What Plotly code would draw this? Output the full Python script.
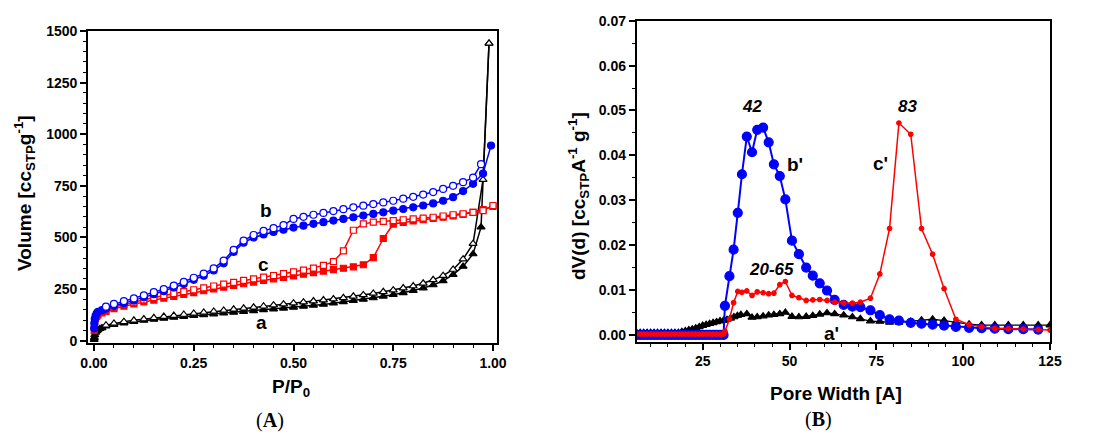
import plotly.graph_objects as go

# ---------------- Panel A: isotherms ----------------
a_ads_x = [0.0005, 0.001, 0.002, 0.004, 0.007, 0.01, 0.015, 0.02, 0.03, 0.05, 0.075, 0.1, 0.125, 0.15, 0.175,
           0.2, 0.225, 0.25, 0.275, 0.3, 0.325, 0.35, 0.375, 0.4, 0.425, 0.45, 0.475, 0.5, 0.525, 0.55, 0.575,
           0.6, 0.625, 0.65, 0.675, 0.7, 0.725, 0.75, 0.775, 0.8, 0.825, 0.85, 0.875, 0.9, 0.925, 0.95, 0.97, 0.99]
a_ads_y = [5, 15, 28, 40, 48, 53, 58, 62, 70, 78, 85, 92, 98, 103, 108,
           113, 117, 121, 125, 129, 133, 137, 141, 145, 149, 153, 157, 161, 166, 171, 176,
           182, 188, 194, 200, 207, 215, 223, 232, 243, 255, 270, 290, 320, 360, 420, 550, 1440]
a_des_x = [0.99, 0.975, 0.95, 0.925, 0.9, 0.875, 0.85, 0.825, 0.8, 0.775, 0.75, 0.725, 0.7, 0.675, 0.65,
           0.625, 0.6, 0.575, 0.55, 0.525, 0.5, 0.475, 0.45, 0.425, 0.4, 0.375, 0.35, 0.325, 0.3, 0.275,
           0.25, 0.225, 0.2, 0.175, 0.15, 0.125, 0.1, 0.075, 0.05, 0.03]
a_des_y = [1440, 780, 470, 395, 345, 315, 295, 278, 265, 255, 245, 237, 229, 222, 215,
           208, 202, 197, 192, 187, 182, 177, 172, 167, 162, 157, 152, 147, 142, 137,
           132, 127, 122, 117, 111, 105, 99, 92, 84, 75]

b_ads_x = [0.0005, 0.001, 0.002, 0.004, 0.007, 0.01, 0.02, 0.03, 0.05, 0.075, 0.1, 0.125, 0.15, 0.175, 0.2,
           0.225, 0.25, 0.275, 0.3, 0.325, 0.35, 0.375, 0.4, 0.425, 0.45, 0.475, 0.5, 0.525, 0.55, 0.575,
           0.6, 0.625, 0.65, 0.675, 0.7, 0.725, 0.75, 0.775, 0.8, 0.825, 0.85, 0.875, 0.9, 0.925, 0.95,
           0.975, 0.995]
b_ads_y = [60, 85, 105, 120, 132, 140, 148, 155, 168, 182, 195, 210, 225, 240, 258,
           275, 295, 315, 340, 375, 430, 475, 500, 515, 527, 538, 548, 557, 566, 574,
           582, 590, 598, 606, 614, 622, 630, 638, 646, 655, 665, 678, 695, 725, 760,
           810, 945]
b_des_x = [0.97, 0.95, 0.925, 0.9, 0.875, 0.85, 0.825, 0.8, 0.775, 0.75, 0.725, 0.7, 0.675, 0.65, 0.625,
           0.6, 0.575, 0.55, 0.525, 0.5, 0.475, 0.45, 0.425, 0.4, 0.375, 0.35, 0.325, 0.3, 0.275, 0.25,
           0.225, 0.2, 0.175, 0.15, 0.125, 0.1, 0.075, 0.05, 0.03]
b_des_y = [855, 790, 768, 750, 735, 720, 708, 697, 688, 678, 670, 662, 654, 646, 637,
           628, 619, 610, 600, 590, 560, 545, 532, 512, 485, 440, 388, 350, 325, 305,
           285, 267, 250, 235, 220, 205, 192, 178, 165]

c_ads_x = [0.0005, 0.001, 0.002, 0.004, 0.007, 0.01, 0.02, 0.03, 0.05, 0.075, 0.1, 0.125, 0.15, 0.175, 0.2,
           0.225, 0.25, 0.275, 0.3, 0.325, 0.35, 0.375, 0.4, 0.425, 0.45, 0.475, 0.5, 0.525, 0.55, 0.575,
           0.6, 0.625, 0.65, 0.675, 0.7, 0.725, 0.75, 0.775, 0.8, 0.825, 0.85, 0.875, 0.9, 0.925, 0.95,
           0.975, 1.0]
c_ads_y = [50, 75, 95, 108, 118, 125, 135, 142, 155, 167, 178, 188, 197, 206, 215,
           224, 233, 242, 251, 260, 268, 276, 284, 292, 300, 307, 314, 322, 330, 337,
           344, 351, 358, 368, 402, 495, 565, 573, 580, 586, 592, 598, 604, 612, 622,
           635, 650]
c_des_x = [1.0, 0.975, 0.95, 0.925, 0.9, 0.875, 0.85, 0.825, 0.8, 0.775, 0.75, 0.725, 0.7, 0.675, 0.65,
           0.625, 0.6, 0.575, 0.55, 0.525, 0.5, 0.475, 0.45, 0.425, 0.4, 0.375, 0.35, 0.325, 0.3, 0.275,
           0.25, 0.225, 0.2, 0.175, 0.15, 0.125, 0.1, 0.075, 0.05, 0.03]
c_des_y = [655, 630, 622, 615, 610, 604, 598, 594, 590, 586, 582, 578, 574, 566, 535,
           435, 383, 365, 352, 342, 333, 325, 316, 308, 300, 292, 283, 274, 265, 256,
           247, 238, 228, 219, 209, 198, 187, 176, 163, 150]

# ---------------- Panel B: pore size distributions ----------------
pre_x = [6, 7, 8, 9, 10, 11, 12, 13, 14, 15, 16, 17, 18, 19, 20, 21, 22, 23, 24, 25, 26, 27, 28, 29, 30]
main_x = [31.4, 32.7, 33.9, 35.1, 36.3, 37.7, 39.2, 40.7, 42.4, 44.0, 45.5, 47.2, 48.8, 50.7, 52.7,
          54.8, 56.7, 58.7, 60.8, 63.0, 65.6, 68.1, 70.4, 73.3, 76.0, 78.8, 81.5, 84.9, 88.0, 91.2,
          94.5, 97.9, 101.7, 105.3, 109.1, 113.0, 117.3, 121.6]

bp_x = pre_x + [31.0] + main_x
bp_y = [0.0] * 25 + [0.0] + [
    0.0065, 0.0131, 0.0190, 0.0272, 0.0358, 0.0442, 0.0407, 0.0457, 0.0462, 0.0429, 0.0380, 0.0354,
    0.0302, 0.0210, 0.0180, 0.0150, 0.0132, 0.0115, 0.0099, 0.0078, 0.0067, 0.0063, 0.0062, 0.0055,
    0.0044, 0.0035, 0.0032, 0.0027, 0.0025, 0.0023, 0.0021, 0.0018, 0.0016, 0.0015, 0.0014, 0.0013,
    0.0013, 0.0012]

cp_x = pre_x + [31.0] + main_x + [125.0]
cp_y = [0.0002] * 25 + [0.0002] + [
    0.0008, 0.0035, 0.0072, 0.0097, 0.0095, 0.0098, 0.0088, 0.0096, 0.0094, 0.0092, 0.0093, 0.0112,
    0.0119, 0.0088, 0.0083, 0.0077, 0.0078, 0.0079, 0.0077, 0.0073, 0.0071, 0.0071, 0.0073, 0.0082,
    0.0136, 0.0237, 0.0472, 0.0447, 0.0237, 0.0180, 0.0103, 0.0035, 0.0023, 0.0018, 0.0015, 0.0014,
    0.0013, 0.0012, 0.0011]

ap_x = [6, 7, 8, 9, 10, 11, 12, 13, 14, 15, 16, 17, 18, 19, 20, 21, 22, 23, 24, 25, 26, 27, 28, 29, 30,
        31, 32, 33, 34, 35, 36] + main_x[5:] + [125.0]
ap_y = [0.0005] * 13 + [0.0007, 0.0009, 0.0011, 0.0013, 0.0015, 0.0018, 0.0021, 0.0023, 0.0025, 0.0027,
                         0.0029, 0.0031, 0.0032, 0.0034, 0.0037, 0.0040, 0.0043, 0.0045] + [
    0.0047, 0.0039, 0.0040, 0.0042, 0.0044, 0.0045, 0.0047, 0.0050, 0.0041, 0.0040, 0.0041, 0.0043,
    0.0046, 0.0049, 0.0047, 0.0044, 0.0040, 0.0036, 0.0031, 0.0030, 0.0028, 0.0028, 0.0030, 0.0033,
    0.0035, 0.0032, 0.0028, 0.0024, 0.0022, 0.0022, 0.0022, 0.0022, 0.0022, 0.0022]

BLUE = "#0000ff"
RED = "#ff0000"
BLACK = "#000000"

fig = go.Figure()

def add(x, y, color, symbol, size, xa, ya, lw=1.5, open_=False):
    fig.add_trace(go.Scatter(
        x=x, y=y, mode="lines+markers", xaxis=xa, yaxis=ya, showlegend=False, cliponaxis=True,
        line=dict(color=color, width=lw),
        marker=dict(symbol=symbol, size=size, color="white" if open_ else color,
                    line=dict(color=color, width=1.2))))

# Panel A
add(a_ads_x, a_ads_y, BLACK, "triangle-up", 7, "x", "y")
add(a_des_x, a_des_y, BLACK, "triangle-up", 7, "x", "y", open_=True)
add(c_ads_x, c_ads_y, RED, "square", 6, "x", "y")
add(c_des_x, c_des_y, RED, "square", 6, "x", "y", open_=True)
add(b_ads_x, b_ads_y, BLUE, "circle", 7, "x", "y")
add(b_des_x, b_des_y, BLUE, "circle", 7, "x", "y", open_=True)

# Panel B
add(ap_x, ap_y, BLACK, "triangle-up", 7, "x2", "y2", lw=1.3)
add(bp_x, bp_y, BLUE, "circle", 9, "x2", "y2", lw=2)
add(cp_x, cp_y, RED, "circle", 4.5, "x2", "y2", lw=1.5)

# the page body margin is removed (post_script below), so the figure fills the window
W, H = 1094, 436
def px(xp):
    return xp / W
def py(yp):
    return 1 - yp / H

tickfont = dict(family="Liberation Sans", size=14, color="black", weight="bold")
axcommon = dict(showline=True, linecolor="black", linewidth=1.8, mirror=True, ticks="outside",
                ticklen=6, tickwidth=1.5, tickcolor="black", showgrid=False, zeroline=False,
                tickfont=tickfont, automargin=False)
minor_kw = dict(ticks="outside", ticklen=3, tickcolor="black", tickwidth=1.2, showgrid=False)

fig.update_layout(
    width=W, height=H, margin=dict(l=0, r=0, t=0, b=0, autoexpand=False),
    paper_bgcolor="white", plot_bgcolor="white",
    xaxis=dict(domain=[px(88), px(497)], range=[-0.015, 1.01], tickvals=[0, 0.25, 0.5, 0.75, 1.0],
               ticktext=["0.00", "0.25", "0.50", "0.75", "1.00"], anchor="y",
               minor=dict(dtick=0.05, tick0=0, **minor_kw), **axcommon),
    yaxis=dict(domain=[py(343), py(31)], range=[-11, 1500], tickvals=[0, 250, 500, 750, 1000, 1250, 1500],
               anchor="x", minor=dict(dtick=50, tick0=0, **minor_kw), **axcommon),
    xaxis2=dict(domain=[px(636.7), px(1050)], range=[6, 125], tickvals=[25, 50, 75, 100, 125], anchor="y2",
                minor=dict(dtick=5, tick0=0, **minor_kw), **axcommon),
    yaxis2=dict(domain=[py(341.7), py(20.7)], range=[-0.0015, 0.07],
                tickvals=[0, 0.01, 0.02, 0.03, 0.04, 0.05, 0.06, 0.07],
                ticktext=["0.00", "0.01", "0.02", "0.03", "0.04", "0.05", "0.06", "0.07"], anchor="x2",
                minor=dict(dtick=0.005, tick0=0, **minor_kw), **axcommon),
)

lab = dict(family="Liberation Sans", size=19, color="black", weight="bold")
labi = dict(family="Liberation Sans", size=17, color="black", weight="bold", style="italic")
C = dict(showarrow=False, xanchor="center", yanchor="middle")
ann = []
# curve labels panel A
ann += [dict(x=0.43, y=630, xref="x", yref="y", text="b", font=lab, **C),
        dict(x=0.425, y=367, xref="x", yref="y", text="c", font=lab, **C),
        dict(x=0.42, y=87, xref="x", yref="y", text="a", font=lab, **C)]
# curve labels panel B
ann += [dict(x=39.3, y=0.0508, xref="x2", yref="y2", text="42", font=labi, **C),
        dict(x=84.0, y=0.0510, xref="x2", yref="y2", text="83", font=labi, **C),
        dict(x=44.8, y=0.0145, xref="x2", yref="y2", text="20-65", font=labi, **C),
        dict(x=51.5, y=0.0379, xref="x2", yref="y2", text="b'", font=lab, **C),
        dict(x=76.1, y=0.0382, xref="x2", yref="y2", text="c'", font=lab, **C),
        dict(x=62.0, y=0.0004, xref="x2", yref="y2", text="a'", font=lab, **C)]
# axis titles and panel letters
ann += [dict(x=px(25), y=py(193), xref="paper", yref="paper", textangle=-90, font=lab,
             text="Volume [cc<sub>STP</sub>g<sup>-1</sup>]", **C),
        dict(x=px(291), y=py(388), xref="paper", yref="paper", font=lab,
             text="P/P<sub>0</sub>", **C),
        dict(x=px(578), y=py(196), xref="paper", yref="paper", textangle=-90, font=lab,
             text="dV(d) [cc<sub>STP</sub>A<sup>-1</sup> g<sup>-1</sup>]", **C),
        dict(x=px(836), y=py(393), xref="paper", yref="paper", font=lab,
             text="Pore Width [A]", **C),
        dict(x=px(270), y=py(420), xref="paper", yref="paper",
             font=dict(family="Liberation Serif", size=20, color="black"), text="(<b>A</b>)", **C),
        dict(x=px(818), y=py(419), xref="paper", yref="paper",
             font=dict(family="Liberation Serif", size=20, color="black"), text="(<b>B</b>)", **C)]
fig.update_layout(annotations=ann)

fig.write_html("out.html", config={"displayModeBar": False},
               post_script="document.body.style.margin='0px';document.body.style.overflow='hidden';")
